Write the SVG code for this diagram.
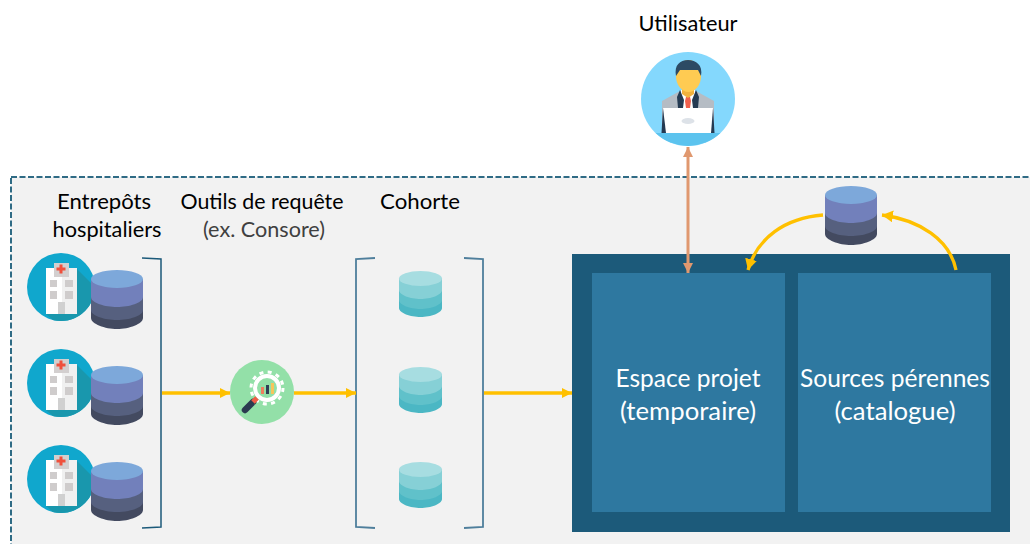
<svg xmlns="http://www.w3.org/2000/svg" width="1030" height="544" viewBox="0 0 1030 544">
<style>
text{font-family:Lato,"Open Sans","Noto Sans",sans-serif;font-size:21px;fill:#000;text-anchor:middle}
.sub{fill:#404040}
.big{font-size:24.500px;fill:#fff}
.flow{fill:none;stroke:#ffc000;stroke-width:3.300}
.br{fill:none;stroke:#1c5a7a;stroke-width:1.500}
.bl{fill:none;stroke:#4f7f9c;stroke-width:1.800}
</style>
<defs>
<marker id="ay" markerUnits="userSpaceOnUse" markerWidth="12" markerHeight="12" refX="10" refY="5" orient="auto"><path d="M0 0L10 5L0 10Z" fill="#ffc000"/></marker>
<marker id="ayb" markerUnits="userSpaceOnUse" markerWidth="14" markerHeight="14" refX="11" refY="6" orient="auto"><path d="M0 0L11 6L0 12Z" fill="#ffc000"/></marker>
<marker id="ao" markerUnits="userSpaceOnUse" markerWidth="12" markerHeight="12" refX="10" refY="5" orient="auto-start-reverse"><path d="M0 0L10 5L0 10Z" fill="#e0986f"/></marker>
<g id="db">
<path d="M-26 40V48C-26 54-12 59 0 59S26 54 26 48V40Z" fill="#434a60"/>
<path d="M-26 27V40C-26 46-12 50 0 50S26 46 26 40V27Z" fill="#56607f"/>
<path d="M-26 9V27C-26 33-12 37 0 37S26 33 26 27V9Z" fill="#7280bb"/>
<ellipse cx="0" cy="9" rx="26" ry="9" fill="#7da8da"/>
</g>
<g id="cdb">
<path d="M-21.500 29V37C-21.500 42-10 46 0 46S21.500 42 21.500 37V29Z" fill="#4bb7c4"/>
<path d="M-21.500 19V29C-21.500 34-10 38 0 38S21.500 34 21.500 29V19Z" fill="#60c1ca"/>
<path d="M-21.500 7V19C-21.500 24-10 28 0 28S21.500 24 21.500 19V7Z" fill="#86d0d6"/>
<ellipse cx="0" cy="7.500" rx="21.500" ry="7.500" fill="#a7dde1"/>
</g>
<g id="hosp">
<circle r="34" fill="#10a7cd"/>
<path d="M16-18L34 0A34 34 0 0 1-8 33L-15 27H16Z" fill="#1997ad"/>
<rect x="-15" y="-19" width="31" height="46" fill="#fff"/>
<rect x="1" y="-19" width="15" height="46" fill="#f0f0f0"/>
<rect x="-7" y="-24" width="15" height="14" fill="#d3cfcf"/>
<path d="M-1.500-22.500h3v3h3v3h-3v3h-3v-3h-3v-3h3Z" fill="#f0503c"/>
<g fill="#cfcccc"><rect x="-11" y="-7" width="7" height="7"/><rect x="4" y="-7" width="8" height="7"/><rect x="-11" y="4" width="7" height="8"/><rect x="4" y="4" width="8" height="8"/></g>
<rect x="-3" y="15" width="7" height="12" fill="#d0d0d0"/>
</g>
</defs>
<rect x="11" y="177" width="1040" height="400" fill="#f2f2f2" stroke="#2f6b85" stroke-width="2" stroke-dasharray="6 2.500"/>
<g id="brackets">
<path class="br" d="M142 258L161 259V527L142 528"/>
<path class="bl" d="M375 258L356 259V527L375 528"/>
<path class="bl" d="M464 258L483 259V527L464 528"/>
</g>
<g id="user-label"><text x="688" y="31" textLength="99" lengthAdjust="spacingAndGlyphs">Utilisateur</text></g>
<g id="entrepots">
<text x="104" y="209" textLength="94" lengthAdjust="spacingAndGlyphs">Entrepôts</text>
<text x="107" y="237" textLength="109" lengthAdjust="spacingAndGlyphs">hospitaliers</text>
<use href="#hosp" x="61" y="287"/><use href="#db" x="117" y="270"/>
<use href="#hosp" x="61" y="383"/><use href="#db" x="117" y="366"/>
<use href="#hosp" x="61" y="479"/><use href="#db" x="117" y="462"/>
</g>
<g id="outils">
<text x="262" y="209" textLength="163" lengthAdjust="spacingAndGlyphs">Outils de requête</text>
<text class="sub" x="264" y="237" textLength="122" lengthAdjust="spacingAndGlyphs">(ex. Consore)</text>
<circle cx="262" cy="392" r="32" fill="#93e0a8"/>
<circle cx="267" cy="388" r="16" fill="none" stroke="#fff" stroke-width="3" stroke-dasharray="4 4.400"/>
<circle cx="267" cy="388" r="12" fill="#93e0a8" stroke="#fff" stroke-width="4"/>
<rect x="261" y="387" width="3" height="7" fill="#ef7d5d"/><rect x="266" y="385" width="3" height="9" fill="#2f3f55"/><rect x="271" y="383" width="3" height="11" fill="#f6c55c"/>
<path d="M253 402L245 410" stroke="#2b3a50" stroke-width="6.500" stroke-linecap="round"/>
<path d="M257 398L253 402" stroke="#ef5c45" stroke-width="5"/>
</g>
<g id="cohorte">
<text x="420" y="209" textLength="80" lengthAdjust="spacingAndGlyphs">Cohorte</text>
<use href="#cdb" x="420.500" y="271"/><use href="#cdb" x="420.500" y="367"/><use href="#cdb" x="420.500" y="462"/>
</g>
<g id="espace-fond"><rect x="572" y="254" width="438" height="278" fill="#1c5a7a"/></g>
<g id="espace-projet">
<rect x="592" y="273" width="193" height="239" fill="#2e78a0"/>
<text class="big" x="688" y="387" textLength="145" lengthAdjust="spacingAndGlyphs">Espace projet</text>
<text class="big" x="688" y="420" textLength="136" lengthAdjust="spacingAndGlyphs">(temporaire)</text>
</g>
<g id="sources">
<rect x="798" y="273" width="193" height="239" fill="#2e78a0"/>
<text class="big" x="895" y="387" textLength="190" lengthAdjust="spacingAndGlyphs">Sources pérennes</text>
<text class="big" x="895" y="420" textLength="121" lengthAdjust="spacingAndGlyphs">(catalogue)</text>
</g>
<g id="catalogue-db"><use href="#db" x="851" y="186"/></g>
<g id="connectors">
<path class="flow" marker-end="url(#ay)" d="M162 393H230"/>
<path class="flow" marker-end="url(#ay)" d="M294 393H356"/>
<path class="flow" marker-end="url(#ay)" d="M484 393H572"/>
<path class="flow" marker-end="url(#ayb)" d="M823 215C785 218 757 238 748 270"/>
<path class="flow" marker-end="url(#ayb)" d="M956 270C950 240 920 220 882 215"/>
<path d="M688 147V273" fill="none" stroke="#e0986f" stroke-width="3" marker-start="url(#ao)" marker-end="url(#ao)"/>
</g>
<g id="utilisateur">
<circle cx="688" cy="99" r="47" fill="#84d8fd"/>
<path d="M655.600 133H720.400A47 47 0 0 1 655.600 133Z" fill="#5cc3ee"/>
<path d="M662 101L680 91H696L714 101L714 133H662Z" fill="#b5bcc4"/>
<path d="M663 108H668V133H661.500ZM708 108H713L714.500 133H708Z" fill="#243a52"/>
<path d="M681 90H695V108H681Z" fill="#fff"/>
<path d="M680 90L677 97L678 108H683L684 100ZM696 90L699 97L698 108H693L692 100Z" fill="#243a52"/>
<path d="M686 97H690L691 101L690 108H686L685 101Z" fill="#f0604d"/>
<path d="M682 86H694V94L688 98L682 94Z" fill="#f2b23e"/>
<ellipse cx="688.500" cy="76" rx="12.500" ry="16" fill="#ffcb52"/>
<path d="M676 76C674 65 680 60 688 60S703 65 701 76L698 70H680Z" fill="#2c4a64"/>
<path d="M663 108H713L711 133H666Z" fill="#fff"/>
<ellipse cx="688" cy="121" rx="6.500" ry="3" fill="#dde2e8"/>
</g>
</svg>
